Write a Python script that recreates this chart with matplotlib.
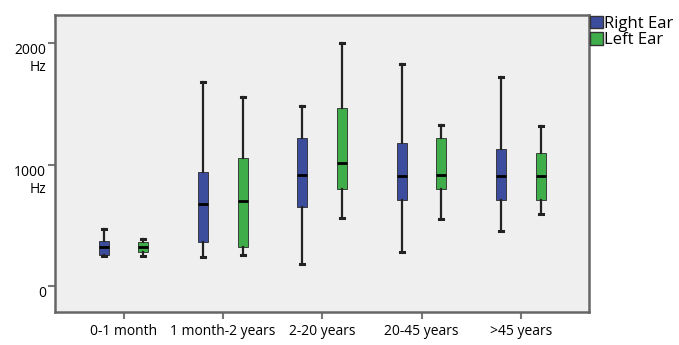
import matplotlib
matplotlib.use("Agg")
import matplotlib.pyplot as plt
import matplotlib.transforms as mtransforms
from matplotlib.patches import Patch

plt.rcParams["font.family"] = ["Open Sans", "DejaVu Sans"]

# Age groups and box statistics (Hz)
groups = ["0-1 month", "1 month-2 years", "2-20 years", "20-45 years", ">45 years"]

right_low = [250, 238, 180, 280, 451]
right_q1 = [258, 361, 648, 705, 705]
right_med = [320, 680, 918, 903, 903]
right_q3 = [369, 943, 1222, 1181, 1124]
right_high = [467, 1682, 1485, 1830, 1723]

left_low = [246, 254, 557, 550, 590]
left_q1 = [280, 320, 796, 796, 705]
left_med = [320, 700, 1009, 911, 903]
left_q3 = [360, 1050, 1468, 1222, 1099]
left_high = [386, 1558, 2000, 1329, 1313]

blue = "#3d4d9e"
green = "#3fae4a"


def make_stats(low, q1, med, q3, high):
    return [dict(whislo=a, q1=b, med=c, q3=d, whishi=e, fliers=[])
            for a, b, c, d, e in zip(low, q1, med, q3, high)]


fig = plt.figure(figsize=(6.79, 3.45), dpi=100)
ax = fig.add_axes([0.081, 0.095, 0.787, 0.862])
ax.set_facecolor("#efefef")

pos = range(len(groups))
for stats, off, col in [
    (make_stats(right_low, right_q1, right_med, right_q3, right_high), -0.2, blue),
    (make_stats(left_low, left_q1, left_med, left_q3, left_high), 0.2, green),
]:
    ax.bxp(stats, positions=[p + off for p in pos], widths=0.1,
           patch_artist=True, showfliers=False,
           boxprops=dict(facecolor=col, edgecolor="#2a2a2a", linewidth=0.6),
           medianprops=dict(color="black", linewidth=2),
           whiskerprops=dict(color="#222222", linewidth=1.6),
           capprops=dict(color="#222222", linewidth=2.2),
           capwidths=0.04)

ax.set_xlim(-0.69, 4.69)
ax.set_ylim(-213, 2230)
ax.set_xticks(list(pos))
ax.set_xticklabels(groups, fontsize=10)
ax.set_yticks([0, 1000, 2000])
ax.set_yticklabels(["0", "1000\nHz", "2000\nHz"], fontsize=10,
                   ha="right", va="top")
# shift labels so the number sits on the tick, "Hz" underneath
offset = mtransforms.ScaledTranslation(0, 8 / 72, fig.dpi_scale_trans)
for lab in ax.get_yticklabels():
    lab.set_multialignment("right")
    lab.set_transform(lab.get_transform() + offset)

ax.tick_params(axis="both", color="#777777", width=1.5, length=5)
ax.tick_params(axis="y", pad=1.5)
for sp in ax.spines.values():
    sp.set_color("#666666")
    sp.set_linewidth(1.8)

handles = [Patch(facecolor=blue, edgecolor="#333333", label="Right Ear"),
           Patch(facecolor=green, edgecolor="#333333", label="Left Ear")]
fig.legend(handles=handles, loc="upper left", bbox_to_anchor=(0.869, 0.955),
           frameon=False, fontsize=12, handlelength=0.75, handleheight=0.75,
           handletextpad=0.1, labelspacing=0.05, borderaxespad=0,
           borderpad=0)

fig.savefig("out.png", dpi=100, facecolor="white")
